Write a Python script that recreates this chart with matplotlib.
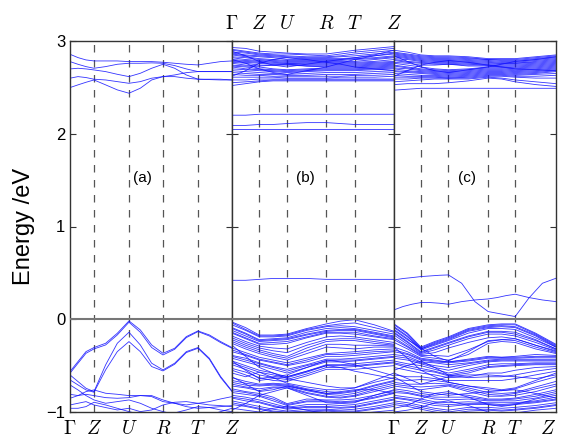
import numpy as np
import matplotlib
matplotlib.use("Agg")
import matplotlib.pyplot as plt

plt.rcParams['font.family'] = ['Liberation Sans', 'DejaVu Sans']
plt.rcParams['mathtext.fontset'] = 'cm'

##### data #########

k_labels = [r'$\Gamma$', r'$Z$', r'$U$', r'$R$', r'$T$', r'$Z$']
panel_tags = ['(a)', '(b)', '(c)']

# high-symmetry point positions (fraction of panel width)
nodes_a = [0, 0.148, 0.364, 0.574, 0.79, 1.0]
nodes_b = [0, 0.168, 0.34, 0.583, 0.757, 1.0]
nodes_c = [0, 0.166, 0.336, 0.581, 0.748, 1.0]

# panel (a): 16 samples per band (node, 1/3, 2/3, node, ...)
bands_a_val = [
    [-0.564, -0.456, -0.349, -0.305, -0.259, -0.151, -0.018, -0.115, -0.277, -0.367, -0.313, -0.187, -0.126, -0.169, -0.241, -0.305],
    [-0.582, -0.474, -0.367, -0.320, -0.277, -0.169, -0.032, -0.140, -0.305, -0.385, -0.324, -0.198, -0.133, -0.180, -0.252, -0.313],
    [-0.600, -0.672, -0.744, -0.780, -0.492, -0.259, -0.140, -0.277, -0.474, -0.546, -0.474, -0.349, -0.305, -0.420, -0.618, -0.773],
    [-0.654, -0.708, -0.762, -0.787, -0.546, -0.349, -0.241, -0.349, -0.510, -0.557, -0.485, -0.359, -0.313, -0.431, -0.629, -0.780],
    [-0.809, -0.823, -0.809, -0.823, -0.845, -0.852, -0.845, -0.823, -0.834, -0.888, -0.906, -0.924, -0.906, -0.888, -0.859, -0.834],
    [-0.852, -0.823, -0.780, -0.762, -0.798, -0.809, -0.823, -0.823, -0.823, -0.870, -0.906, -0.942, -0.960, -0.952, -0.942, -0.931],
    [-0.924, -0.906, -0.888, -0.924, -0.952, -0.978, -0.960, -0.996, -0.978, -0.924, -0.895, -0.888, -0.906, -0.924, -0.931, -0.942],
    [-0.960, -0.960, -0.942, -0.895, -0.924, -0.960, -0.996, -1.024, -1.032, -1.024, -1.010, -0.978, -0.942, -0.952, -0.978, -0.996],
    [-0.708, -0.762, -0.823, -0.870, -0.906, -0.888, -0.870, -0.906, -0.960, -0.996, -1.024, -1.032, -1.024, -1.032, -0.996, -0.960],
]
bands_a_cond = [
    [2.857, 2.821, 2.796, 2.785, 2.785, 2.785, 2.778, 2.778, 2.778, 2.771, 2.760, 2.749, 2.742, 2.760, 2.778, 2.785],
    [2.778, 2.749, 2.724, 2.706, 2.724, 2.749, 2.760, 2.760, 2.764, 2.760, 2.735, 2.699, 2.670, 2.670, 2.670, 2.670],
    [2.699, 2.706, 2.699, 2.688, 2.670, 2.641, 2.616, 2.652, 2.706, 2.749, 2.706, 2.634, 2.588, 2.588, 2.588, 2.580],
    [2.599, 2.616, 2.606, 2.588, 2.580, 2.562, 2.544, 2.562, 2.599, 2.616, 2.616, 2.599, 2.588, 2.584, 2.580, 2.580],
    [2.498, 2.527, 2.555, 2.580, 2.527, 2.473, 2.437, 2.491, 2.580, 2.616, 2.634, 2.659, 2.670, 2.670, 2.670, 2.670],
]

# panel (b): 11 samples per band (node, mid, node, ...)
bands_b_val = [
    [-0.03, -0.09, -0.17, -0.17, -0.16, -0.10, -0.05, -0.02, -0.005, -0.06, -0.13],
    [-0.04, -0.11, -0.18, -0.18, -0.17, -0.11, -0.07, -0.05, -0.04, -0.09, -0.14],
    [-0.06, -0.12, -0.19, -0.19, -0.18, -0.12, -0.08, -0.07, -0.08, -0.12, -0.16],
    [-0.09, -0.15, -0.22, -0.21, -0.20, -0.14, -0.10, -0.09, -0.10, -0.14, -0.18],
    [-0.10, -0.16, -0.23, -0.22, -0.21, -0.16, -0.12, -0.11, -0.11, -0.15, -0.19],
    [-0.12, -0.18, -0.24, -0.23, -0.22, -0.17, -0.13, -0.12, -0.12, -0.16, -0.20],
    [-0.14, -0.20, -0.26, -0.25, -0.24, -0.19, -0.14, -0.14, -0.14, -0.18, -0.21],
    [-0.15, -0.21, -0.27, -0.27, -0.26, -0.20, -0.15, -0.15, -0.16, -0.19, -0.22],
    [-0.18, -0.24, -0.29, -0.31, -0.32, -0.25, -0.19, -0.18, -0.19, -0.22, -0.25],
    [-0.20, -0.26, -0.31, -0.34, -0.36, -0.28, -0.22, -0.21, -0.21, -0.24, -0.27],
    [-0.22, -0.28, -0.33, -0.37, -0.40, -0.31, -0.24, -0.23, -0.23, -0.26, -0.28],
    [-0.24, -0.30, -0.35, -0.39, -0.42, -0.34, -0.27, -0.27, -0.28, -0.28, -0.29],
    [-0.26, -0.32, -0.37, -0.41, -0.44, -0.37, -0.30, -0.31, -0.32, -0.30, -0.30],
    [-0.31, -0.36, -0.41, -0.44, -0.47, -0.42, -0.37, -0.36, -0.35, -0.33, -0.32],
    [-0.33, -0.38, -0.43, -0.46, -0.49, -0.44, -0.38, -0.38, -0.37, -0.35, -0.34],
    [-0.35, -0.39, -0.44, -0.47, -0.50, -0.46, -0.40, -0.40, -0.39, -0.37, -0.35],
    [-0.39, -0.42, -0.47, -0.51, -0.54, -0.49, -0.43, -0.43, -0.42, -0.40, -0.38],
    [-0.40, -0.44, -0.48, -0.52, -0.56, -0.50, -0.45, -0.44, -0.44, -0.42, -0.40],
    [-0.42, -0.46, -0.50, -0.54, -0.58, -0.52, -0.46, -0.46, -0.45, -0.43, -0.41],
    [-0.45, -0.50, -0.55, -0.58, -0.62, -0.56, -0.49, -0.49, -0.48, -0.46, -0.44],
    [-0.47, -0.52, -0.57, -0.60, -0.63, -0.57, -0.50, -0.50, -0.50, -0.48, -0.46],
    [-0.49, -0.54, -0.60, -0.63, -0.65, -0.59, -0.52, -0.52, -0.51, -0.49, -0.47],
    [-0.53, -0.57, -0.63, -0.66, -0.67, -0.61, -0.54, -0.54, -0.54, -0.52, -0.50],
    [-0.45, -0.55, -0.64, -0.62, -0.60, -0.52, -0.44, -0.46, -0.49, -0.55, -0.61],
    [-0.55, -0.60, -0.66, -0.64, -0.62, -0.56, -0.50, -0.52, -0.56, -0.60, -0.64],
    [-0.28, -0.40, -0.52, -0.58, -0.64, -0.68, -0.72, -0.74, -0.74, -0.66, -0.58],
    [-0.58, -0.62, -0.57, -0.63, -0.69, -0.73, -0.76, -0.76, -0.74, -0.68, -0.63],
    [-0.63, -0.67, -0.70, -0.69, -0.70, -0.75, -0.78, -0.79, -0.77, -0.71, -0.66],
    [-0.66, -0.69, -0.71, -0.70, -0.71, -0.76, -0.80, -0.80, -0.78, -0.72, -0.67],
    [-0.68, -0.71, -0.72, -0.71, -0.72, -0.77, -0.81, -0.82, -0.80, -0.74, -0.69],
    [-0.70, -0.73, -0.75, -0.73, -0.73, -0.79, -0.83, -0.84, -0.82, -0.76, -0.71],
    [-0.72, -0.74, -0.77, -0.74, -0.74, -0.80, -0.84, -0.85, -0.83, -0.78, -0.73],
    [-0.75, -0.78, -0.80, -0.84, -0.91, -0.86, -0.87, -0.87, -0.86, -0.82, -0.77],
    [-0.77, -0.79, -0.82, -0.86, -0.92, -0.88, -0.88, -0.89, -0.88, -0.84, -0.79],
    [-0.79, -0.81, -0.83, -0.88, -0.93, -0.89, -0.89, -0.90, -0.89, -0.85, -0.80],
    [-0.82, -0.84, -0.87, -0.91, -0.95, -0.92, -0.92, -0.93, -0.92, -0.88, -0.84],
    [-0.84, -0.86, -0.89, -0.93, -0.96, -0.94, -0.94, -0.95, -0.94, -0.90, -0.86],
    [-0.85, -0.88, -0.90, -0.94, -0.97, -0.95, -0.95, -0.96, -0.95, -0.91, -0.87],
    [-0.88, -0.91, -0.94, -0.97, -0.99, -0.97, -0.97, -0.98, -0.97, -0.94, -0.90],
    [-0.90, -0.93, -0.96, -0.99, -1.00, -0.99, -0.98, -0.99, -0.99, -0.96, -0.92],
    [-0.92, -0.94, -0.97, -1.00, -1.01, -1.00, -0.99, -1.00, -1.00, -0.97, -0.94],
    [-0.98, -0.91, -0.82, -0.78, -0.74, -0.82, -0.90, -0.91, -0.90, -0.82, -0.76],
    [-0.62, -0.70, -0.78, -0.76, -0.72, -0.76, -0.80, -0.78, -0.76, -0.76, -0.80],
    [-0.96, -0.98, -1.00, -0.96, -0.94, -0.98, -1.02, -1.03, -1.02, -1.00, -0.98],
]
bands_b_gap = [
    [0.42, 0.42, 0.43, 0.44, 0.44, 0.44, 0.43, 0.43, 0.43, 0.43, 0.43],
    [2.05, 2.05, 2.05, 2.05, 2.05, 2.05, 2.05, 2.05, 2.05, 2.05, 2.05],
    [2.09, 2.09, 2.10, 2.10, 2.11, 2.12, 2.12, 2.11, 2.10, 2.10, 2.10],
    [2.20, 2.20, 2.21, 2.21, 2.21, 2.21, 2.21, 2.21, 2.21, 2.21, 2.21],
]
bands_b_cond = [
    [2.93, 2.92, 2.89, 2.88, 2.87, 2.86, 2.86, 2.88, 2.90, 2.92, 2.94],
    [2.91, 2.89, 2.87, 2.86, 2.86, 2.85, 2.84, 2.86, 2.88, 2.90, 2.92],
    [2.90, 2.88, 2.86, 2.85, 2.84, 2.83, 2.83, 2.84, 2.86, 2.88, 2.90],
    [2.88, 2.87, 2.85, 2.84, 2.83, 2.82, 2.82, 2.83, 2.84, 2.86, 2.88],
    [2.87, 2.85, 2.84, 2.83, 2.82, 2.81, 2.81, 2.81, 2.82, 2.84, 2.86],
    [2.86, 2.84, 2.83, 2.82, 2.80, 2.80, 2.80, 2.80, 2.81, 2.82, 2.84],
    [2.85, 2.83, 2.81, 2.80, 2.79, 2.79, 2.79, 2.79, 2.80, 2.81, 2.83],
    [2.83, 2.82, 2.80, 2.79, 2.78, 2.78, 2.78, 2.78, 2.78, 2.80, 2.82],
    [2.82, 2.80, 2.79, 2.78, 2.77, 2.77, 2.77, 2.77, 2.77, 2.78, 2.80],
    [2.80, 2.79, 2.78, 2.77, 2.76, 2.76, 2.76, 2.76, 2.76, 2.77, 2.78],
    [2.79, 2.78, 2.77, 2.76, 2.76, 2.75, 2.75, 2.75, 2.75, 2.76, 2.77],
    [2.78, 2.77, 2.76, 2.75, 2.75, 2.74, 2.74, 2.74, 2.74, 2.75, 2.76],
    [2.77, 2.76, 2.74, 2.74, 2.74, 2.73, 2.73, 2.73, 2.73, 2.74, 2.75],
    [2.76, 2.74, 2.73, 2.74, 2.75, 2.73, 2.72, 2.72, 2.72, 2.73, 2.74],
    [2.74, 2.73, 2.72, 2.70, 2.69, 2.70, 2.71, 2.71, 2.71, 2.72, 2.73],
    [2.73, 2.72, 2.70, 2.69, 2.68, 2.69, 2.70, 2.70, 2.70, 2.71, 2.72],
    [2.72, 2.70, 2.69, 2.68, 2.67, 2.68, 2.69, 2.69, 2.69, 2.70, 2.71],
    [2.70, 2.69, 2.68, 2.67, 2.66, 2.67, 2.68, 2.68, 2.68, 2.69, 2.70],
    [2.68, 2.67, 2.66, 2.65, 2.64, 2.65, 2.66, 2.66, 2.66, 2.67, 2.68],
    [2.66, 2.65, 2.64, 2.64, 2.63, 2.63, 2.64, 2.64, 2.64, 2.65, 2.66],
    [2.64, 2.63, 2.63, 2.62, 2.62, 2.62, 2.62, 2.62, 2.63, 2.63, 2.64],
    [2.61, 2.61, 2.61, 2.61, 2.60, 2.60, 2.60, 2.61, 2.61, 2.61, 2.62],
    [2.58, 2.58, 2.59, 2.59, 2.59, 2.59, 2.59, 2.59, 2.59, 2.59, 2.59],
    [2.55, 2.56, 2.57, 2.58, 2.58, 2.58, 2.58, 2.58, 2.58, 2.58, 2.58],
    [2.52, 2.54, 2.56, 2.57, 2.57, 2.57, 2.57, 2.57, 2.57, 2.57, 2.57],
    [2.62, 2.68, 2.76, 2.80, 2.82, 2.80, 2.77, 2.75, 2.72, 2.70, 2.68],
    [2.80, 2.76, 2.70, 2.66, 2.64, 2.68, 2.72, 2.76, 2.80, 2.84, 2.87],
    [2.89, 2.84, 2.78, 2.74, 2.72, 2.75, 2.78, 2.80, 2.82, 2.85, 2.90],
]

# panel (c)
bands_c_val = [
    [-0.05, -0.15, -0.30, -0.24, -0.19, -0.10, -0.06, -0.05, -0.05, -0.15, -0.27],
    [-0.06, -0.16, -0.31, -0.25, -0.20, -0.11, -0.07, -0.06, -0.06, -0.16, -0.28],
    [-0.08, -0.18, -0.32, -0.26, -0.21, -0.12, -0.08, -0.07, -0.08, -0.17, -0.29],
    [-0.09, -0.19, -0.32, -0.27, -0.22, -0.13, -0.09, -0.08, -0.09, -0.18, -0.30],
    [-0.11, -0.21, -0.33, -0.28, -0.23, -0.15, -0.10, -0.10, -0.11, -0.20, -0.30],
    [-0.14, -0.24, -0.35, -0.30, -0.25, -0.18, -0.13, -0.13, -0.14, -0.22, -0.32],
    [-0.15, -0.25, -0.36, -0.31, -0.26, -0.19, -0.14, -0.14, -0.16, -0.23, -0.32],
    [-0.17, -0.27, -0.37, -0.33, -0.28, -0.21, -0.16, -0.16, -0.18, -0.25, -0.33],
    [-0.20, -0.29, -0.38, -0.36, -0.31, -0.25, -0.20, -0.19, -0.21, -0.28, -0.35],
    [-0.22, -0.30, -0.39, -0.39, -0.40, -0.33, -0.24, -0.22, -0.23, -0.30, -0.36],
    [-0.12, -0.22, -0.31, -0.40, -0.45, -0.35, -0.23, -0.22, -0.21, -0.28, -0.34],
    [-0.25, -0.32, -0.40, -0.42, -0.44, -0.38, -0.26, -0.24, -0.25, -0.32, -0.37],
    [-0.30, -0.35, -0.42, -0.44, -0.46, -0.43, -0.40, -0.41, -0.40, -0.38, -0.39],
    [-0.33, -0.37, -0.43, -0.45, -0.46, -0.44, -0.41, -0.41, -0.41, -0.40, -0.40],
    [-0.35, -0.38, -0.44, -0.46, -0.47, -0.45, -0.42, -0.42, -0.42, -0.41, -0.41],
    [-0.38, -0.40, -0.46, -0.47, -0.49, -0.47, -0.44, -0.43, -0.43, -0.43, -0.43],
    [-0.40, -0.42, -0.47, -0.50, -0.52, -0.48, -0.45, -0.44, -0.44, -0.44, -0.44],
    [-0.42, -0.44, -0.48, -0.52, -0.55, -0.50, -0.46, -0.45, -0.45, -0.45, -0.45],
    [-0.45, -0.48, -0.50, -0.54, -0.58, -0.54, -0.49, -0.48, -0.48, -0.47, -0.47],
    [-0.47, -0.50, -0.53, -0.56, -0.60, -0.56, -0.51, -0.50, -0.49, -0.48, -0.48],
    [-0.48, -0.52, -0.55, -0.57, -0.61, -0.58, -0.52, -0.51, -0.50, -0.49, -0.49],
    [-0.52, -0.55, -0.58, -0.60, -0.63, -0.62, -0.58, -0.58, -0.55, -0.52, -0.51],
    [-0.55, -0.50, -0.45, -0.52, -0.60, -0.63, -0.62, -0.62, -0.60, -0.56, -0.53],
    [-0.58, -0.64, -0.70, -0.66, -0.62, -0.60, -0.60, -0.61, -0.62, -0.64, -0.60],
    [-0.30, -0.42, -0.55, -0.62, -0.68, -0.72, -0.74, -0.76, -0.74, -0.66, -0.58],
    [-0.60, -0.62, -0.62, -0.64, -0.66, -0.66, -0.66, -0.66, -0.64, -0.60, -0.56],
    [-0.65, -0.66, -0.65, -0.66, -0.68, -0.72, -0.76, -0.77, -0.75, -0.68, -0.62],
    [-0.68, -0.70, -0.70, -0.69, -0.70, -0.74, -0.79, -0.80, -0.79, -0.73, -0.67],
    [-0.70, -0.72, -0.73, -0.72, -0.71, -0.76, -0.81, -0.82, -0.80, -0.75, -0.70],
    [-0.72, -0.74, -0.76, -0.74, -0.72, -0.78, -0.83, -0.83, -0.82, -0.78, -0.72],
    [-0.75, -0.77, -0.80, -0.82, -0.80, -0.82, -0.86, -0.86, -0.85, -0.81, -0.76],
    [-0.77, -0.79, -0.82, -0.84, -0.84, -0.84, -0.87, -0.87, -0.86, -0.83, -0.78],
    [-0.79, -0.80, -0.83, -0.86, -0.87, -0.86, -0.88, -0.88, -0.88, -0.85, -0.80],
    [-0.82, -0.84, -0.86, -0.89, -0.90, -0.89, -0.90, -0.90, -0.90, -0.88, -0.84],
    [-0.84, -0.86, -0.88, -0.91, -0.92, -0.91, -0.91, -0.92, -0.91, -0.89, -0.86],
    [-0.85, -0.87, -0.90, -0.93, -0.94, -0.92, -0.92, -0.93, -0.92, -0.90, -0.87],
    [-0.88, -0.90, -0.93, -0.96, -0.98, -0.95, -0.95, -0.96, -0.95, -0.93, -0.90],
    [-0.90, -0.92, -0.95, -0.98, -1.00, -0.97, -0.97, -0.98, -0.97, -0.95, -0.92],
    [-0.92, -0.94, -0.97, -1.00, -1.02, -0.99, -0.98, -0.99, -0.98, -0.96, -0.93],
    [-0.96, -0.93, -0.86, -0.80, -0.78, -0.84, -0.92, -0.94, -0.92, -0.86, -0.82],
    [-1.00, -0.98, -0.95, -0.90, -0.88, -0.93, -1.00, -1.02, -1.01, -0.98, -0.96],
    [-0.62, -0.70, -0.78, -0.80, -0.82, -0.80, -0.78, -0.77, -0.76, -0.80, -0.85],
]
bands_c_gap = [  # 16 samples
    [0.424, 0.439, 0.449, 0.460, 0.467, 0.474, 0.478, 0.388, 0.190, 0.083, 0.065, 0.047, 0.029, 0.227, 0.388, 0.442],
    [0.101, 0.137, 0.162, 0.180, 0.180, 0.173, 0.162, 0.190, 0.208, 0.219, 0.234, 0.255, 0.270, 0.234, 0.208, 0.190],
]
bands_c_cond = [
    [2.90, 2.88, 2.85, 2.84, 2.84, 2.83, 2.81, 2.81, 2.81, 2.83, 2.85],
    [2.88, 2.86, 2.84, 2.83, 2.83, 2.82, 2.80, 2.80, 2.80, 2.82, 2.84],
    [2.87, 2.85, 2.83, 2.82, 2.82, 2.81, 2.80, 2.79, 2.79, 2.81, 2.83],
    [2.86, 2.84, 2.82, 2.81, 2.81, 2.80, 2.79, 2.78, 2.78, 2.80, 2.82],
    [2.85, 2.83, 2.81, 2.80, 2.80, 2.79, 2.78, 2.77, 2.77, 2.79, 2.81],
    [2.84, 2.82, 2.80, 2.79, 2.79, 2.78, 2.77, 2.76, 2.76, 2.78, 2.80],
    [2.83, 2.81, 2.79, 2.78, 2.78, 2.77, 2.76, 2.76, 2.76, 2.77, 2.79],
    [2.81, 2.80, 2.78, 2.77, 2.77, 2.76, 2.75, 2.75, 2.75, 2.76, 2.78],
    [2.80, 2.78, 2.77, 2.76, 2.76, 2.75, 2.74, 2.74, 2.74, 2.75, 2.77],
    [2.79, 2.77, 2.76, 2.75, 2.75, 2.74, 2.74, 2.73, 2.73, 2.74, 2.76],
    [2.77, 2.76, 2.74, 2.74, 2.75, 2.73, 2.73, 2.72, 2.72, 2.73, 2.75],
    [2.76, 2.74, 2.72, 2.70, 2.69, 2.70, 2.72, 2.72, 2.71, 2.72, 2.74],
    [2.74, 2.72, 2.70, 2.69, 2.68, 2.69, 2.71, 2.71, 2.70, 2.71, 2.73],
    [2.73, 2.71, 2.69, 2.68, 2.67, 2.68, 2.70, 2.70, 2.69, 2.70, 2.72],
    [2.71, 2.70, 2.68, 2.67, 2.66, 2.67, 2.69, 2.69, 2.68, 2.69, 2.71],
    [2.70, 2.68, 2.67, 2.66, 2.65, 2.66, 2.68, 2.68, 2.67, 2.68, 2.70],
    [2.68, 2.67, 2.66, 2.65, 2.64, 2.65, 2.67, 2.67, 2.66, 2.67, 2.69],
    [2.67, 2.66, 2.65, 2.64, 2.63, 2.64, 2.66, 2.66, 2.65, 2.66, 2.68],
    [2.65, 2.64, 2.63, 2.63, 2.62, 2.63, 2.65, 2.65, 2.64, 2.65, 2.67],
    [2.63, 2.62, 2.62, 2.62, 2.61, 2.62, 2.64, 2.64, 2.63, 2.64, 2.65],
    [2.61, 2.61, 2.61, 2.61, 2.60, 2.61, 2.63, 2.63, 2.62, 2.62, 2.63],
    [2.59, 2.59, 2.60, 2.60, 2.60, 2.60, 2.62, 2.62, 2.61, 2.60, 2.60],
    [2.56, 2.57, 2.58, 2.59, 2.59, 2.59, 2.61, 2.60, 2.58, 2.56, 2.54],
    [2.53, 2.54, 2.54, 2.54, 2.55, 2.57, 2.60, 2.59, 2.56, 2.53, 2.51],
    [2.47, 2.48, 2.49, 2.49, 2.49, 2.49, 2.49, 2.49, 2.49, 2.49, 2.49],
    [2.62, 2.68, 2.74, 2.77, 2.79, 2.77, 2.74, 2.72, 2.70, 2.69, 2.68],
    [2.84, 2.78, 2.72, 2.68, 2.66, 2.69, 2.72, 2.75, 2.78, 2.80, 2.83],
]

###################


def kpath(nodes, sub):
    pts = []
    for i in range(len(nodes) - 1):
        pts += list(np.linspace(nodes[i], nodes[i + 1], sub + 1)[:-1])
    pts.append(nodes[-1])
    return np.array(pts)


band_color = '#1010ff'

fig = plt.figure(figsize=(5.62, 4.42), dpi=100)
left, right, bottom, top = 70 / 562, 556 / 562, 30 / 442, 401 / 442
w = (right - left) / 3
axes = [fig.add_axes([left + i * w, bottom, w, top - bottom]) for i in range(3)]

panels = [
    (nodes_a, [(bands_a_val, 3), (bands_a_cond, 3)]),
    (nodes_b, [(bands_b_val, 2), (bands_b_gap, 2), (bands_b_cond, 2)]),
    (nodes_c, [(bands_c_val, 2), (bands_c_gap, 3), (bands_c_cond, 2)]),
]

for i, (ax, (nodes, groups)) in enumerate(zip(axes, panels)):
    for bands, sub in groups:
        k = kpath(nodes, sub)
        for b in bands:
            ax.plot(k, b, color=band_color, lw=0.6, alpha=0.85)
    for xn in nodes[1:-1]:
        ax.axvline(xn, color='#555555', lw=0.9, ls=(0, (6, 6)), zorder=0)
    ax.axhline(0, color='#777777', lw=1.5, zorder=3)
    ax.set_xlim(0, 1)
    ax.set_ylim(-1, 3)
    ax.set_yticks([-1, 0, 1, 2, 3])
    ax.tick_params(axis='y', direction='in', left=True, right=True, length=4,
                   labelsize=12, color='#333333')
    ax.set_xticks(nodes)
    ax.set_xticklabels(k_labels, fontsize=14)
    ax.tick_params(axis='x', length=0, pad=6)
    if i == 1:
        ax.xaxis.tick_top()
        ax.tick_params(axis='x', length=0, pad=6)
    if i == 2:
        ax.get_xticklabels()[-1].set_horizontalalignment('right')
    if i > 0:
        ax.set_yticklabels([])
    for s in ax.spines.values():
        s.set_color('#333333')
        s.set_linewidth(1.0)
    ax.text(0.45, 1.52, panel_tags[i], ha='center', va='center', fontsize=11)

axes[0].set_ylabel('Energy /eV', fontsize=17, labelpad=8)

fig.savefig('out.png', dpi=100)
